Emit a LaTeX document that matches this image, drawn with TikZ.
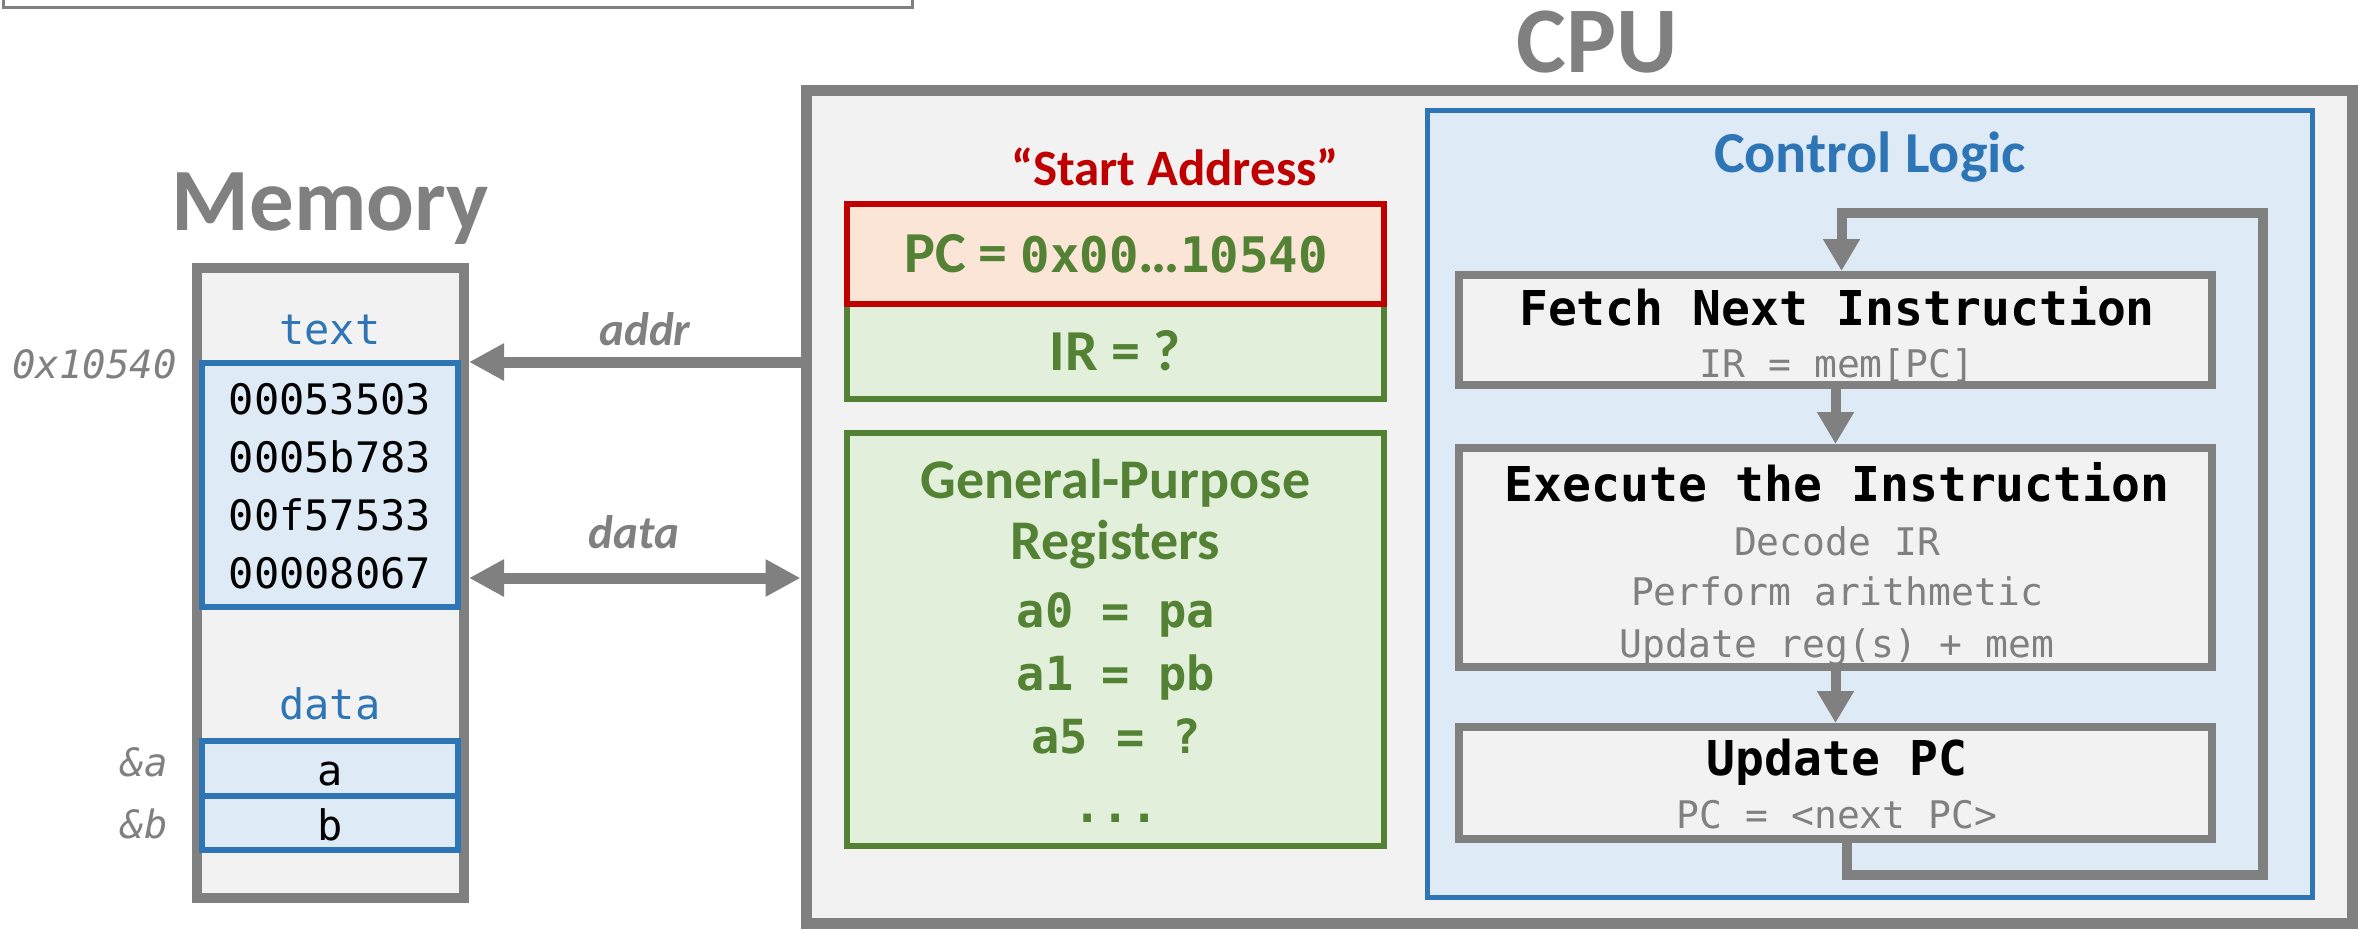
\documentclass[tikz,border=0pt]{standalone}
\usepackage{fontspec}
\setmainfont{Carlito}
\newfontfamily\monof{DejaVu Sans Mono}
\usetikzlibrary{arrows.meta}

\definecolor{frame}{HTML}{808080}
\definecolor{panel}{HTML}{F2F2F2}
\definecolor{cblue}{HTML}{2E75B6}
\definecolor{lblue}{HTML}{DEEBF7}
\definecolor{cred}{HTML}{C00000}
\definecolor{lpeach}{HTML}{FBE5D6}
\definecolor{cgreen}{HTML}{548235}
\definecolor{lgreen}{HTML}{E2EFDA}

\newcommand{\fsz}[1]{\fontsize{#1}{#1}\selectfont}

\begin{document}
\begin{tikzpicture}[x=1pt,y=-1pt,
  every node/.style={inner sep=0pt},
  cpubox/.style={draw=frame, fill=panel, line width=11pt},
  membox/.style={draw=frame, fill=panel, line width=10pt},
  segbox/.style={draw=cblue, fill=lblue, line width=6pt},
  ctlbox/.style={draw=cblue, fill=lblue, line width=5pt},
  regbox/.style={draw=cgreen, fill=lgreen, line width=6pt},
  pcbox/.style={draw=cred, fill=lpeach, line width=6pt},
  stepbox/.style={draw=frame, fill=panel, line width=8pt},
  txt/.style={anchor=base},
  bigtitle/.style={txt, text=frame, font=\fsz{#1}\bfseries},
  memtxt/.style={txt, font=\monof\fsz{42}},
  addrtxt/.style={anchor=base east, text=frame, font=\monof\itshape\fsz{39}},
  regtxt/.style={txt, text=cgreen, font=\monof\bfseries\fsz{47}},
  steptitle/.style={txt, font=\monof\bfseries\fsz{48}},
  stepsub/.style={txt, text=frame, font=\monof\fsz{38}},
  buslabel/.style={txt, text=frame, font=\bfseries\itshape\fsz{47}},
  bus/.style={draw=frame, line width=11pt},
  flow/.style={draw=frame, line width=10pt, -{Triangle[length=32pt,width=35pt]}}
]
\useasboundingbox (0,0) rectangle (2366,929);

% partly visible frame along the top edge
\node[draw=frame, line width=3pt, fill=white, minimum width=909pt, minimum height=40pt] (topbox) at (457.5,-13) {};

% ---------------- Memory ----------------
\node[bigtitle=89] (memtitle) at (330,230) {Memory};
\node[membox, minimum width=267pt, minimum height=630pt] (mem) at (330.5,583) {};
\node[memtxt, text=cblue] (textlbl) at (330,344) {text};
\node[segbox, minimum width=256pt, minimum height=244pt] (tb) at (330,485) {};
\node[memtxt] (w1) at (330,414) {00053503};
\node[memtxt] (w2) at (330,472) {0005b783};
\node[memtxt] (w3) at (330,530) {00f57533};
\node[memtxt] (w4) at (330,588) {00008067};
\node[memtxt, text=cblue] (datalbl) at (330,719) {data};
\node[segbox, minimum width=256pt, minimum height=55pt] (va) at (330,768.5) {};
\node[segbox, minimum width=256pt, minimum height=54pt] (vb) at (330,823) {};
\node[memtxt] (vatxt) at (330,785) {a};
\node[memtxt] (vbtxt) at (330,840) {b};
\node[addrtxt] (addr0) at (177,378) {0x10540};
\node[addrtxt] (addra) at (168,776) {\&a};
\node[addrtxt] (addrb) at (168,838) {\&b};

% ---------------- CPU ----------------
\node[bigtitle=94] (cputitle) at (1597,72) {CPU};
\node[cpubox, minimum width=1546pt, minimum height=833pt] (cpu) at (1579,506.5) {};

\node[txt, text=cred, font=\bfseries\fsz{51}] (startlbl) at (1175,185) {“Start Address”};
\node[regbox, minimum width=537pt, minimum height=95pt] (ir) at (1115.5,351.5) {};
\node[pcbox, minimum width=537pt, minimum height=100pt] (pc) at (1115.5,254) {};
\node[txt, text=cgreen, font=\bfseries\fsz{58}] (pctxt) at (1116,272)
  {PC = {\monof\fsz{49}0x00}…{\monof\fsz{49}10540}};
\node[txt, text=cgreen, font=\bfseries\fsz{58}] (irtxt) at (1115,370) {IR = ?};

\node[regbox, minimum width=537pt, minimum height=413pt] (gpr) at (1115.5,639.5) {};
\node[txt, text=cgreen, font=\bfseries\fsz{56}] (gpr1) at (1115.5,498) {General-Purpose};
\node[txt, text=cgreen, font=\bfseries\fsz{56}] (gpr2) at (1115.5,559) {Registers};
\node[regtxt] (ra0) at (1116,627) {a0 = pa};
\node[regtxt] (ra1) at (1116,690) {a1 = pb};
\node[regtxt] (ra5) at (1116,753) {a5 = ?};
\node[regtxt] (rdots) at (1116,822) {...};

% control logic
\node[ctlbox, minimum width=885pt, minimum height=787pt] (ctl) at (1869.5,503.5) {};
\node[txt, text=cblue, font=\bfseries\fsz{58}] (ctltitle) at (1870,172) {Control Logic};

\node[stepbox, minimum width=753pt, minimum height=110pt] (fetch) at (1835.5,330) {};
\node[steptitle] (fetcht) at (1837,325) {Fetch Next Instruction};
\node[stepsub] (fetchs) at (1837,377) {IR = mem[PC]};

\node[stepbox, minimum width=753pt, minimum height=219pt] (exec) at (1835.5,557.5) {};
\node[steptitle] (exect) at (1837,501) {Execute the Instruction};
\node[stepsub] (execs1) at (1837,555) {Decode IR};
\node[stepsub] (execs2) at (1837,605) {Perform arithmetic};
\node[stepsub] (execs3) at (1837,657) {Update reg(s) + mem};

\node[stepbox, minimum width=753pt, minimum height=112pt] (upd) at (1835.5,783) {};
\node[steptitle] (updt) at (1837,775) {Update PC};
\node[stepsub] (upds) at (1837,828) {PC = <next PC>};

\draw[flow] (fetch.south) -- (exec.north);
\draw[flow] (exec.south) -- (upd.north);
\coordinate (loopbr) at (2263,875);
\coordinate (looptr) at (2263,213);
\draw[flow] ([xshift=11pt]upd.south) |- (loopbr) -- (looptr) -| ([xshift=6pt]fetch.north);

% ---------------- buses ----------------
\coordinate (addry) at (0,362);
\coordinate (datay) at (0,578);
\draw[bus, -{Triangle[length=35pt,width=35pt]}] (cpu.west |- addry) -- (mem.east |- addry);
\draw[bus, {Triangle[length=35pt,width=35pt]}-{Triangle[length=35pt,width=35pt]}] (mem.east |- datay) -- (cpu.west |- datay);
\node[buslabel] (addrlbl) at (645,345) {addr};
\node[buslabel] (datalbl2) at (634,548) {data};
\end{tikzpicture}
\end{document}
